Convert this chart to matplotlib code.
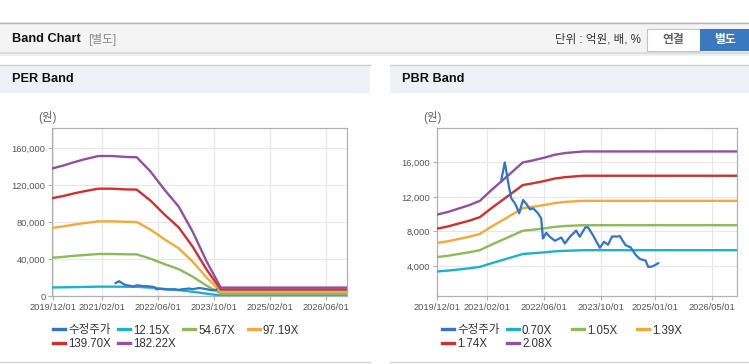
import matplotlib
matplotlib.use('Agg')
import matplotlib.pyplot as plt
from matplotlib.patches import Rectangle
from matplotlib.lines import Line2D
from matplotlib.legend import Legend
from matplotlib.ticker import StrMethodFormatter
import pandas as pd

plt.rcParams['font.family'] = ['Liberation Sans', 'Noto Sans CJK KR']

W, H = 749, 364

# PER band (won)
per_dates = ['2019-12-01', '2020-03-01', '2020-06-01', '2020-09-01', '2021-01-01',
             '2021-05-01', '2021-09-01', '2021-12-01', '2022-04-01', '2022-08-01',
             '2022-12-01', '2023-04-01', '2023-08-01', '2023-12-01', '2026-12-01']
per_1215 = [9200, 9400, 9600, 9800, 10100, 10100, 10000, 10000, 9000, 7600, 6400, 4600, 2500, 600, 600]
per_5467 = [41400, 42300, 43400, 44300, 45400, 45400, 45100, 45000, 40300, 34400, 29000, 20900, 11100, 2700, 2700]
per_9719 = [73600, 75200, 77100, 78800, 80700, 80700, 80200, 80000, 71700, 61100, 51500, 37100, 19800, 4900, 4900]
per_13970 = [105800, 108000, 110800, 113200, 116000, 116000, 115200, 115000, 103000, 87900, 74100, 53300, 28400, 7000, 7000]
per_18222 = [138000, 140900, 144500, 147700, 151300, 151300, 150300, 150000, 134400, 114600, 96600, 69500, 37100, 9100, 9100]
per_labels = ['12.15X', '54.67X', '97.19X', '139.70X', '182.22X']
per_price_end = '2023-11-10'

# PBR band (won)
pbr_dates = ['2019-12-01', '2020-03-01', '2020-06-01', '2020-09-01', '2020-12-01',
             '2021-03-01', '2021-06-01', '2021-09-01', '2021-12-01', '2022-03-01',
             '2022-06-01', '2022-09-01', '2022-12-01', '2023-05-01', '2026-12-01']
pbr_070 = [3350, 3450, 3580, 3720, 3890, 4270, 4640, 5010, 5380, 5470, 5570, 5690, 5750, 5820, 5820]
pbr_105 = [5020, 5170, 5380, 5580, 5830, 6410, 6970, 7520, 8080, 8200, 8350, 8530, 8630, 8720, 8720]
pbr_139 = [6650, 6850, 7120, 7380, 7720, 8490, 9220, 9960, 10690, 10860, 11060, 11290, 11430, 11550, 11550]
pbr_174 = [8320, 8570, 8910, 9240, 9660, 10620, 11540, 12460, 13380, 13590, 13840, 14140, 14300, 14460, 14460]
pbr_208 = [9950, 10250, 10650, 11050, 11550, 12700, 13800, 14900, 16000, 16250, 16550, 16900, 17100, 17280, 17280]
pbr_labels = ['0.70X', '1.05X', '1.39X', '1.74X', '2.08X']

# adjusted share price (수정주가)
price_dates = ['2021-06-01', '2021-07-01', '2021-07-07', '2021-07-28', '2021-08-25', '2021-09-25',
               '2021-10-06', '2021-11-01', '2021-11-12', '2021-12-04', '2022-01-01', '2022-02-01',
               '2022-02-28', '2022-04-10', '2022-05-07', '2022-05-22', '2022-06-19', '2022-07-19',
               '2022-09-01', '2022-10-25', '2022-11-25', '2023-01-07', '2023-03-01', '2023-04-01',
               '2023-05-19', '2023-06-10', '2023-07-22', '2023-09-19', '2023-10-25', '2023-11-28',
               '2024-01-01', '2024-02-12', '2024-03-07', '2024-04-25', '2024-06-07', '2024-07-19',
               '2024-08-25', '2024-10-13', '2024-11-04', '2024-12-10', '2025-01-28']
price = [13980, 16000, 15530, 13790, 11840, 11260, 10950, 10100, 10680, 11650, 11180, 10560,
         10680, 10100, 9510, 7180, 7840, 7380, 6910, 7300, 6600, 7380, 8100, 7380,
         8480, 8470, 7570, 6100, 6800, 6450, 7420, 7400, 7460, 6400, 6150, 5300,
         4800, 4620, 3880, 3930, 4300]

band_colors = ['#1cb2c9', '#8dba59', '#f5a93a', '#d1302f', '#9150a0']
price_color = '#3174c9'


def fx(x):
    return x / W


def fy(y):
    return 1 - y / H


def box(x0, y0, x1, y1, fc, ec='none'):
    fig.add_artist(Rectangle((fx(x0), fy(y1)), (x1 - x0) / W, (y1 - y0) / H,
                             transform=fig.transFigure, facecolor=fc, edgecolor=ec, lw=0.8))


def hline(x0, x1, y, color, lw=1.0):
    fig.add_artist(Line2D([fx(x0), fx(x1)], [fy(y), fy(y)], transform=fig.transFigure,
                          color=color, lw=lw))


fig = plt.figure(figsize=(W / 100, H / 100), dpi=100)
fig.patch.set_facecolor('white')

# top bar
box(0, 22.5, W, 52.5, '#f4f4f4')
hline(0, W, 22.5, '#b4b4b4')
hline(0, W, 53.2, '#d6d6d6', 1.2)
hline(0, W, 54.5, '#ededed', 1.2)
fig.text(fx(12), fy(39.5), 'Band Chart', fontsize=9.2, fontweight='bold', color='#111', va='center')
fig.text(fx(88), fy(39.5), '[별도]', fontsize=8.5, color='#8a8a8a', va='center')
fig.text(fx(641), fy(40), '단위 : 억원, 배, %', fontsize=8.3, color='#333', va='center', ha='right')
box(647, 28.5, 700, 51, 'white', '#c4c4c4')
fig.text(fx(673.5), fy(40), '연결', fontsize=8.5, fontweight='bold', color='#666', va='center', ha='center')
box(700, 28.5, W, 51, '#3a78c0')
fig.text(fx(725), fy(40), '별도', fontsize=8.5, fontweight='bold', color='white', va='center', ha='center')

# panel headers
for x0, x1, title in [(0, 370, 'PER Band'), (390, W, 'PBR Band')]:
    box(x0, 64.5, x1, 92.5, '#eef1f6')
    hline(x0, x1, 64.5, '#cfcfcf')
    hline(x0, x1, 362, '#d4d4d4')
    fig.text(fx(x0 + 12), fy(79.5), title, fontsize=9.2, fontweight='bold', color='#111', va='center')


def draw_panel(rect, dates, bands, labels, ylim, yticks, xticks, price_end, legend_x):
    ax = fig.add_axes(rect)
    d = pd.to_datetime(dates)
    handles = []
    pd_dates = pd.to_datetime(price_dates)
    keep = pd_dates <= pd.Timestamp(price_end)
    p_line, = ax.plot(pd_dates[keep], [v for v, k in zip(price, keep) if k],
                      color=price_color, lw=1.6, zorder=5)
    handles.append(p_line)
    for vals, c in zip(bands, band_colors):
        ln, = ax.plot(d, vals, color=c, lw=1.7, zorder=3, solid_joinstyle='round')
        handles.append(ln)

    ax.set_xlim(pd.Timestamp('2019-12-01'), pd.Timestamp('2026-12-01'))
    ax.set_ylim(*ylim)
    ax.set_yticks(yticks)
    ax.yaxis.set_major_formatter(StrMethodFormatter('{x:,.0f}'))
    xt = pd.to_datetime(xticks)
    ax.set_xticks(xt)
    ax.set_xticklabels([t.strftime('%Y/%m/%d') for t in xt])
    ax.grid(True, color='#e6e6e6', lw=0.8)
    ax.set_axisbelow(True)
    for s in ax.spines.values():
        s.set_color('#b0b0b0')
        s.set_linewidth(0.9)
    ax.tick_params(labelsize=6.7, labelcolor='#555', color='#b0b0b0', length=3, width=0.8, pad=2)

    # one small legend per entry so the columns sit on a fixed 65 px grid
    labs = ['수정주가'] + labels
    for i, (h, lab) in enumerate(zip(handles, labs)):
        col, row = i % 4, i // 4
        proxy = Line2D([], [], color=h.get_color(), lw=2.4)
        leg = Legend(ax, [proxy], [lab], loc='center left',
                     bbox_to_anchor=(fx(legend_x + col * 65), fy(330.5 + row * 13.5)),
                     bbox_transform=fig.transFigure, frameon=False, borderpad=0,
                     borderaxespad=0, handlelength=1.0, handletextpad=0.3,
                     prop={'size': 8.3}, labelcolor='#333')
        ax.add_artist(leg)
    return ax


ax1 = draw_panel([fx(52.5), fy(296), 294.5 / W, 168 / H],
                 per_dates, [per_1215, per_5467, per_9719, per_13970, per_18222], per_labels,
                 (0, 181600), [0, 40000, 80000, 120000, 160000],
                 ['2019-12-01', '2021-02-01', '2022-06-01', '2023-10-01', '2025-02-01', '2026-06-01'],
                 per_price_end, 53)
fig.text(fx(47.5), fy(118), '(원)', fontsize=8.3, color='#666', va='center', ha='center')

ax2 = draw_panel([fx(437), fy(296), 300 / W, 168 / H],
                 pbr_dates, [pbr_070, pbr_105, pbr_139, pbr_174, pbr_208], pbr_labels,
                 (505, 20000), [4000, 8000, 12000, 16000],
                 ['2019-12-01', '2021-02-01', '2022-06-01', '2023-10-01', '2025-01-01', '2026-05-01'],
                 '2026-12-01', 442)
fig.text(fx(432), fy(118), '(원)', fontsize=8.3, color='#666', va='center', ha='center')

fig.savefig('out.png', dpi=100)
